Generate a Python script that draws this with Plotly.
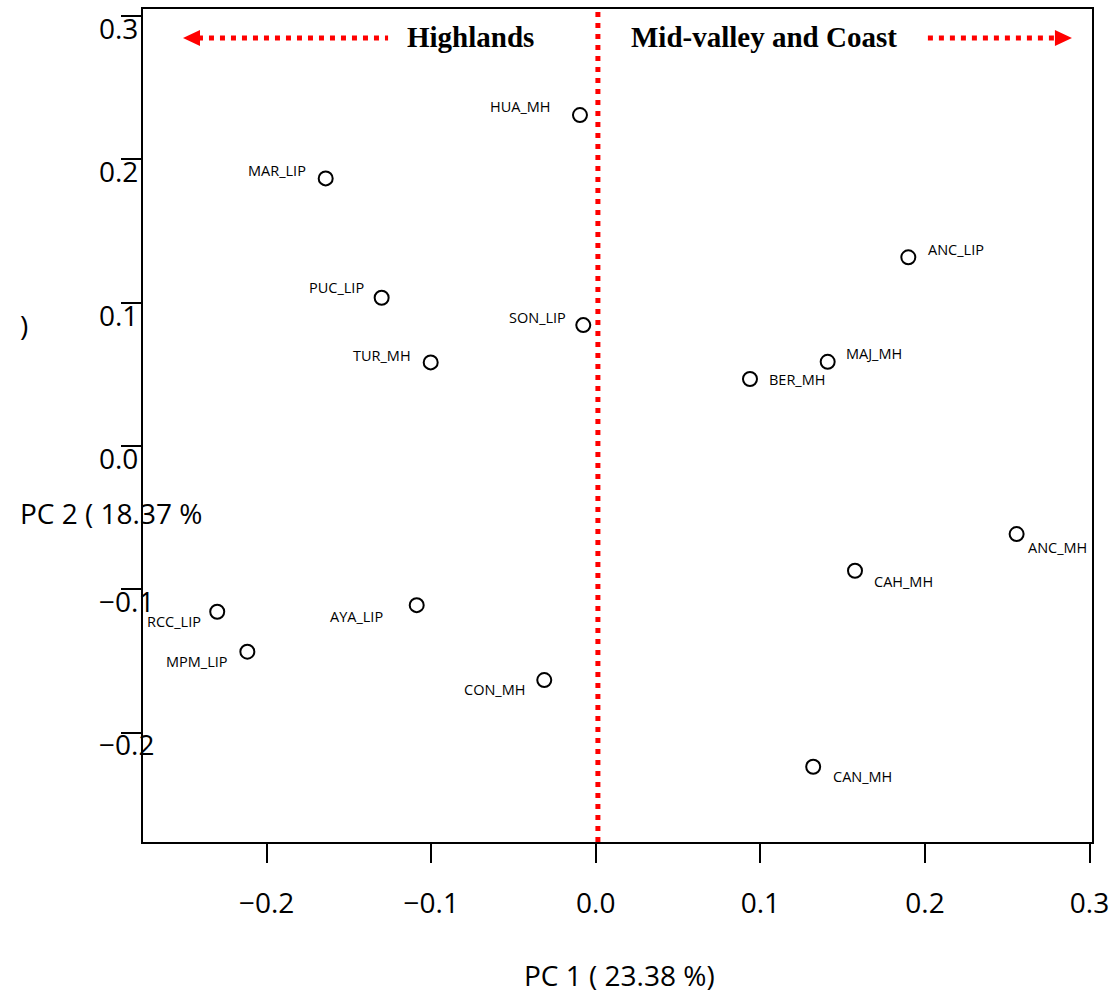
import plotly.graph_objects as go

# ---------------- data ----------------
SAMPLES = ["HUA_MH", "MAR_LIP", "ANC_LIP", "PUC_LIP", "SON_LIP", "TUR_MH", "MAJ_MH",
           "BER_MH", "ANC_MH", "CAH_MH", "RCC_LIP", "AYA_LIP", "MPM_LIP", "CON_MH", "CAN_MH"]
PC1 = [-0.0096, -0.1641, 0.1899, -0.1301, -0.0076, -0.1003, 0.1409,
       0.0937, 0.2557, 0.1575, -0.2300, -0.1088, -0.2117, -0.0313, 0.1321]
PC2 = [0.2310, 0.1868, 0.1317, 0.1035, 0.0844, 0.0584, 0.0588,
       0.0468, -0.0614, -0.0870, -0.1156, -0.1110, -0.1435, -0.1633, -0.2238]

X_TICKS = [-0.2, -0.1, 0.0, 0.1, 0.2, 0.3]
Y_TICKS = [-0.2, -0.1, 0.0, 0.1, 0.2, 0.3]
X_TITLE = "PC 1 ( 23.38 %)"
Y_TITLE_MAIN = "PC 2 ( 18.37 %"
Y_TITLE_TAIL = ")"
REGION_LEFT = "Highlands"
REGION_RIGHT = "Mid-valley and Coast"

# ---------------- label placement (pixels) ----------------
# (anchor side, x shift of anchored edge, y shift downward)
LABEL_OFFSETS = {
    "HUA_MH": ("right", -27, -9),
    "MAR_LIP": ("right", -18, -8),
    "ANC_LIP": ("left", 18, -8),
    "PUC_LIP": ("right", -16, -10),
    "SON_LIP": ("right", -15, -8),
    "TUR_MH": ("right", -18, -7),
    "MAJ_MH": ("left", 16, -8),
    "BER_MH": ("left", 17, 0),
    "ANC_MH": ("left", 9, 13),
    "CAH_MH": ("left", 17, 11),
    "CAN_MH": ("left", 18, 10),
    "RCC_LIP": ("right", -14, 10),
    "AYA_LIP": ("right", -32, 11),
    "MPM_LIP": ("right", -17, 10),
    "CON_MH": ("right", -17, 9),
}

TICK_FONT = dict(family="Open Sans", size=28, color="black")
RED = "#ff0000"


def fmt(v):
    s = f"{v:.1f}"
    return s.replace("-", "\u2212")


fig = go.Figure()
fig.add_trace(go.Scatter(
    x=PC1, y=PC2, mode="markers",
    marker=dict(symbol="circle-open", size=14, color="black", line=dict(width=2, color="black")),
    showlegend=False, hoverinfo="text", text=SAMPLES,
))

annotations = []
for name, x, y in zip(SAMPLES, PC1, PC2):
    side, dx, dy = LABEL_OFFSETS[name]
    annotations.append(dict(
        x=x, y=y, xref="x", yref="y", text=name, showarrow=False,
        xanchor=side, yanchor="middle", xshift=dx, yshift=-dy,
        font=dict(family="Open Sans", size=14.5, color="black"),
    ))

# region titles
annotations.append(dict(x=-0.0764, y=0.2856, xref="x", yref="y", text=f"<b>{REGION_LEFT}</b>",
                        showarrow=False, xanchor="center", yanchor="middle",
                        font=dict(family="Liberation Serif", size=29, color="black")))
annotations.append(dict(x=0.1025, y=0.2856, xref="x", yref="y", text=f"<b>{REGION_RIGHT}</b>",
                        showarrow=False, xanchor="center", yanchor="middle",
                        font=dict(family="Liberation Serif", size=29, color="black")))

# axis titles
annotations.append(dict(x=0.5016, y=-0.1597, xref="paper", yref="paper", text=X_TITLE,
                        showarrow=False, xanchor="center", yanchor="middle",
                        font=dict(family="Open Sans", size=28, color="black")))
annotations.append(dict(x=-0.1317, y=0.395, xref="paper", yref="paper", text=Y_TITLE_MAIN,
                        showarrow=False, xanchor="left", yanchor="middle",
                        font=dict(family="Open Sans", size=28, color="black")))
annotations.append(dict(x=-0.1317, y=0.6207, xref="paper", yref="paper", text=Y_TITLE_TAIL,
                        showarrow=False, xanchor="left", yanchor="middle",
                        font=dict(family="Open Sans", size=28, color="black")))

shapes = []
dot = dict(color=RED, width=5, dash="5px,6px")
# vertical divider
shapes.append(dict(type="line", xref="x", yref="paper", x0=0.0013, x1=0.0013, y0=0, y1=1, line=dot))
# left arrow
shapes.append(dict(type="line", xref="x", yref="y", x0=-0.2417, x1=-0.1262, y0=0.2847, y1=0.2847, line=dot))
shapes.append(dict(type="path", xref="x", yref="y", xsizemode="pixel", ysizemode="pixel",
                   xanchor=-0.2417, yanchor=0.2847, path="M 2 -8 L 2 8 L -15 0 Z",
                   fillcolor=RED, line=dict(width=0, color=RED)))
# right arrow
shapes.append(dict(type="line", xref="x", yref="y", x0=0.2018, x1=0.2802, y0=0.2847, y1=0.2847, line=dot))
shapes.append(dict(type="path", xref="x", yref="y", xsizemode="pixel", ysizemode="pixel",
                   xanchor=0.2802, yanchor=0.2847, path="M -2 -8 L -2 8 L 15 0 Z",
                   fillcolor=RED, line=dict(width=0, color=RED)))

fig.update_layout(
    width=1110, height=997,
    margin=dict(l=143, r=18, t=9, b=155),
    paper_bgcolor="white", plot_bgcolor="white",
    annotations=annotations, shapes=shapes,
    xaxis=dict(
        range=[-0.2751, 0.3015], tickvals=X_TICKS, ticktext=[fmt(v) for v in X_TICKS],
        ticks="outside", ticklen=19, tickwidth=2, tickcolor="black",
        showline=True, linewidth=2, linecolor="black", mirror=True, automargin=False,
        showgrid=False, zeroline=False, tickfont=TICK_FONT, ticklabelstandoff=16,
    ),
    yaxis=dict(
        range=[-0.2763, 0.305], tickvals=Y_TICKS,
        ticktext=[fmt(v) + ("" if v < 0 else "\u2007") for v in Y_TICKS],
        ticks="outside", ticklen=20, tickwidth=2, tickcolor="black",
        showline=True, linewidth=2, linecolor="black", mirror=True, automargin=False,
        showgrid=False, zeroline=False, tickfont=TICK_FONT,
        ticklabelstandoff=-39, ticklabelshift=13,
    ),
)

fig.write_html("out.html")
